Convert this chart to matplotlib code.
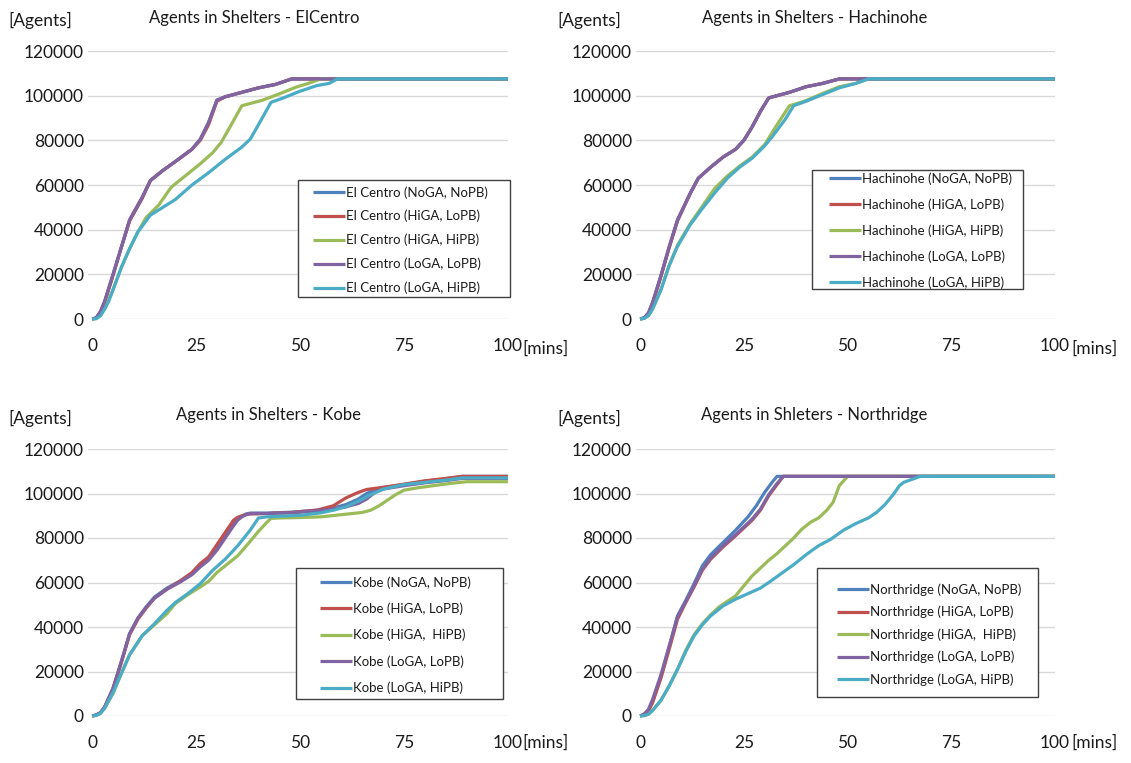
import matplotlib
matplotlib.use("Agg")
import matplotlib.pyplot as plt
from matplotlib.patches import Rectangle

plt.rcParams['font.family'] = ['Lato', 'DejaVu Sans']

W, H = 1131, 763

# colours of the five runs (Office palette)
COLORS = ['#4F81BD', '#C0504D', '#9BBB59', '#8064A2', '#4BACC6']

# ---------------- El Centro ----------------
ec_t_lo = [0, 1, 2, 3, 5, 7, 9, 12, 14, 17, 20, 24, 26, 28, 30, 32, 36, 40, 44, 48, 58, 100]
ec_noga = [0, 500, 3000, 7500, 19500, 32000, 44000, 54000, 62000, 66500, 70500, 76000, 80500, 88000, 98000, 99500, 101500, 103500, 105000, 107500, 107500, 107500]
ec_higa_lo = [0, 500, 3000, 7500, 19500, 32000, 44000, 54000, 62000, 66500, 70500, 76000, 80000, 87000, 97500, 99500, 101500, 103500, 105000, 107500, 107500, 107500]
ec_loga_lo = [0, 600, 3500, 8000, 20000, 32000, 44500, 54500, 62000, 66500, 70500, 76000, 80500, 88000, 98000, 99500, 101500, 103500, 105000, 107500, 107500, 107500]
ec_t_hihi = [0, 1, 2, 3, 5, 7, 9, 11, 13, 16, 19, 23, 26, 29, 31, 33, 36, 38, 41, 45, 49, 52, 55, 100]
ec_higa_hi = [0, 200, 1500, 4500, 13000, 23000, 31500, 39000, 45500, 51000, 59000, 65000, 69500, 74500, 79000, 85500, 95500, 96500, 98000, 100800, 103800, 105500, 107500, 107500]
ec_t_lohi = [0, 1, 2, 3, 4, 5, 7, 9, 11, 14, 17, 20, 24, 28, 32, 36, 38, 40, 43, 46, 50, 54, 57, 59, 100]
ec_loga_hi = [0, 200, 1500, 4500, 8000, 13000, 23000, 31500, 39000, 46500, 50000, 53500, 60000, 65500, 71500, 77000, 80500, 87000, 97000, 99000, 102000, 104500, 105500, 107500, 107500]

# ---------------- Hachinohe ----------------
ha_t_lo = [0, 1, 2, 3, 5, 7, 9, 12, 14, 17, 20, 23, 25, 27, 29, 31, 33, 36, 40, 44, 48, 55, 100]
ha_noga = [0, 500, 2500, 7000, 19000, 32000, 44000, 56000, 63000, 68000, 72500, 76000, 80000, 86000, 93000, 99000, 100000, 101500, 104000, 105500, 107500, 107500, 107500]
ha_higa_lo = ha_noga
ha_loga_lo = [0, 600, 2800, 7500, 19500, 32500, 44500, 56000, 63000, 68000, 72500, 76000, 80000, 86000, 93000, 99000, 100000, 101500, 104000, 105500, 107500, 107500, 107500]
ha_t_hihi = [0, 1, 2, 3, 5, 7, 9, 12, 15, 18, 21, 24, 27, 30, 33, 36, 37, 40, 44, 48, 52, 55, 100]
ha_higa_hi = [0, 300, 1500, 4500, 13000, 24000, 33000, 42500, 50500, 58500, 64000, 68500, 72500, 78000, 87000, 95500, 96000, 97800, 101000, 104000, 105500, 107500, 107500]
ha_t_lohi = [0, 1, 2, 3, 5, 7, 9, 12, 15, 18, 21, 24, 27, 30, 32, 35, 37, 40, 44, 48, 52, 55, 100]
ha_loga_hi = [0, 300, 1500, 4500, 13000, 24000, 32500, 42000, 49500, 56500, 63000, 68000, 72000, 77500, 82000, 89500, 95500, 97500, 100500, 103500, 105500, 107500, 107500]

# ---------------- Kobe ----------------
kb_t = [0, 1, 2, 3, 5, 7, 9, 11, 13, 15, 18, 21, 24, 26, 28, 30, 32, 34, 35, 36, 37, 38, 42, 48, 54, 58, 61, 64, 66, 68, 70, 75, 80, 85, 89, 100]
kb_noga = [0, 500, 1500, 4000, 12000, 24000, 37000, 44000, 49000, 53500, 57500, 60500, 64000, 67500, 70500, 75500, 81000, 86500, 88500, 89800, 90800, 91200, 91200, 91600, 92500, 93500, 95000, 97500, 100000, 101800, 102700, 104000, 105500, 106500, 107700, 107700]
kb_higa_lo = [0, 500, 1500, 4000, 12000, 24000, 36500, 43500, 48500, 53000, 57000, 60500, 64500, 68500, 71500, 77000, 82500, 88000, 89300, 90000, 90500, 90800, 91000, 91500, 92500, 94500, 98000, 100500, 101800, 102300, 102800, 104200, 105700, 106800, 107700, 107700]
kb_loga_lo = [0, 500, 1500, 4000, 12500, 24500, 37000, 44000, 49000, 53000, 57000, 60000, 63500, 67000, 70000, 74500, 80000, 85500, 88000, 89500, 90500, 91000, 91000, 91300, 92200, 93000, 94000, 95500, 97500, 100500, 102000, 103500, 104800, 105800, 106800, 106800]
kb_t_hihi = [0, 1, 2, 3, 5, 7, 9, 12, 15, 18, 20, 23, 26, 28, 30, 32, 35, 38, 40, 42, 43, 45, 50, 55, 60, 65, 67, 69, 71, 73, 75, 78, 82, 86, 90, 100]
kb_higa_hi = [0, 300, 1200, 3500, 10000, 19000, 27500, 36000, 41000, 46000, 50500, 54500, 58000, 60500, 64500, 67500, 72000, 78500, 83000, 87000, 88800, 89000, 89200, 89500, 90500, 91500, 92500, 94500, 97000, 99500, 101500, 102500, 103500, 104500, 105300, 105300]
kb_t_lohi = [0, 1, 2, 3, 5, 7, 9, 12, 15, 18, 20, 23, 26, 29, 32, 35, 38, 40, 42, 45, 50, 55, 58, 61, 64, 67, 70, 75, 80, 85, 89, 100]
kb_loga_hi = [0, 300, 1200, 3500, 10500, 19000, 27500, 36000, 41500, 47500, 51000, 55000, 59500, 65500, 70500, 76500, 83500, 89000, 89500, 89800, 90200, 91300, 92500, 94000, 96500, 99500, 102000, 104000, 105000, 106000, 107000, 107000]

# ---------------- Northridge ----------------
nr_t_no = [0, 1, 2, 3, 5, 7, 9, 11, 13, 15, 17, 20, 23, 25, 26, 28, 30, 32, 33, 100]
nr_noga = [0, 800, 2500, 6500, 17500, 31000, 45000, 52000, 59500, 67500, 72500, 78000, 83500, 87500, 89500, 94500, 100500, 105500, 107700, 107700]
nr_t_lo = [0, 1, 2, 3, 5, 7, 9, 11, 13, 15, 17, 20, 23, 25, 27, 29, 31, 33, 34.5, 100]
nr_higa_lo = [0, 700, 2300, 6000, 17000, 30000, 43500, 51000, 58000, 65500, 70500, 76000, 81000, 84500, 88000, 92500, 99000, 104000, 107700, 107700]
nr_loga_lo = [0, 900, 3000, 7500, 18500, 31500, 44500, 51500, 58500, 66000, 71000, 76500, 81500, 85000, 88500, 93000, 99500, 104500, 107700, 107700]
nr_t_hihi = [0, 1, 2, 3, 5, 7, 9, 11, 13, 15, 17, 19, 21, 23, 25, 27, 29, 31, 33, 35, 37, 39, 41, 43, 45, 46.5, 48, 50, 100]
nr_higa_hi = [0, 200, 800, 2500, 7000, 13500, 21000, 29500, 36500, 41500, 45500, 49000, 51500, 54000, 58500, 63000, 66500, 70000, 73000, 76500, 80000, 84000, 87000, 89000, 92500, 96000, 103500, 107700, 107700]
nr_t_lohi = [0, 1, 2, 3, 5, 7, 9, 11, 13, 15, 17, 20, 23, 26, 29, 31, 34, 37, 40, 43, 46, 49, 52, 55, 57, 59, 61, 62.5, 63.5, 65, 67.5, 100]
nr_loga_hi = [0, 200, 800, 2500, 7000, 13500, 21000, 29000, 36000, 41000, 45000, 49500, 52500, 55000, 57500, 60000, 64000, 68000, 72500, 76500, 79500, 83500, 86500, 89000, 91500, 95000, 99500, 103500, 105000, 106000, 107700, 107700]

x_ticks = [0, 25, 50, 75, 100]
y_ticks = [0, 20000, 40000, 60000, 80000, 100000, 120000]

legend_labels = {
    'El Centro': ['El Centro (NoGA, NoPB)', 'El Centro (HiGA, LoPB)', 'El Centro (HiGA, HiPB)', 'El Centro (LoGA, LoPB)', 'El Centro (LoGA, HiPB)'],
    'Hachinohe': ['Hachinohe (NoGA, NoPB)', 'Hachinohe (HiGA, LoPB)', 'Hachinohe (HiGA, HiPB)', 'Hachinohe (LoGA, LoPB)', 'Hachinohe (LoGA, HiPB)'],
    'Kobe': ['Kobe (NoGA, NoPB)', 'Kobe (HiGA, LoPB)', 'Kobe (HiGA,  HiPB)', 'Kobe (LoGA, LoPB)', 'Kobe (LoGA, HiPB)'],
    'Northridge': ['Northridge (NoGA, NoPB)', 'Northridge (HiGA, LoPB)', 'Northridge (HiGA,  HiPB)', 'Northridge (LoGA, LoPB)', 'Northridge (LoGA, HiPB)'],
}

panels = [
    dict(name='El Centro', title='Agents in Shelters - ElCentro',
         series=[(ec_t_lo, ec_noga), (ec_t_lo, ec_higa_lo), (ec_t_hihi, ec_higa_hi), (ec_t_lo, ec_loga_lo), (ec_t_lohi, ec_loga_hi)],
         ax=(88, 508, 51, 319), title_xy=(254, 18), agents_xy=(8, 20), mins_xy=(522, 349),
         box=(298, 180, 510, 297), leg=(313, 186), ls=0.86),
    dict(name='Hachinohe', title='Agents in Shelters - Hachinohe',
         series=[(ha_t_lo, ha_noga), (ha_t_lo, ha_higa_lo), (ha_t_hihi, ha_higa_hi), (ha_t_lo, ha_loga_lo), (ha_t_lohi, ha_loga_hi)],
         ax=(636, 1055, 51, 319), title_xy=(815, 18), agents_xy=(557, 20), mins_xy=(1071, 349),
         box=(812, 170, 1023, 289), leg=(829, 172), ls=1.02),
    dict(name='Kobe', title='Agents in Shelters - Kobe',
         series=[(kb_t, kb_noga), (kb_t, kb_higa_lo), (kb_t_hihi, kb_higa_hi), (kb_t, kb_loga_lo), (kb_t_lohi, kb_loga_hi)],
         ax=(88, 508, 449, 716), title_xy=(268, 415), agents_xy=(8, 418), mins_xy=(522, 743),
         box=(296, 568, 503, 699), leg=(320, 576), ls=1.05),
    dict(name='Northridge', title='Agents in Shleters - Northridge',
         series=[(nr_t_no, nr_noga), (nr_t_lo, nr_higa_lo), (nr_t_hihi, nr_higa_hi), (nr_t_lo, nr_loga_lo), (nr_t_lohi, nr_loga_hi)],
         ax=(636, 1055, 449, 716), title_xy=(814, 415), agents_xy=(557, 418), mins_xy=(1071, 743),
         box=(817, 568, 1038, 697), leg=(837, 583), ls=0.76),
]


def fx(x):
    return x / W


def fy(y):
    return 1 - y / H


fig = plt.figure(figsize=(W / 100, H / 100), dpi=100)
TXT = '#1a1a1a'
FS = 12.5

for p in panels:
    l, r, t, b = p['ax']
    ax = fig.add_axes([fx(l), fy(b), (r - l) / W, (b - t) / H])
    for (xs, ys), c, lab in zip(p['series'], COLORS, legend_labels[p['name']]):
        ax.plot(xs, ys, color=c, lw=2.3, label=lab, clip_on=False, solid_capstyle='butt')
    ax.set_xlim(-1, 100)
    ax.set_ylim(0, 120000)
    ax.set_xticks(x_ticks)
    ax.set_yticks(y_ticks)
    ax.set_yticklabels([str(v) for v in y_ticks])
    ax.tick_params(length=0, labelsize=FS, colors=TXT)
    ax.tick_params(axis='x', pad=14)
    ax.tick_params(axis='y', pad=3)
    ax.grid(axis='y', color='#d9d9d9', lw=1)
    ax.set_axisbelow(True)
    for s in ax.spines.values():
        s.set_visible(False)

    fig.text(fx(p['title_xy'][0]), fy(p['title_xy'][1]), p['title'], ha='center', va='center', fontsize=12, color=TXT)
    fig.text(fx(p['agents_xy'][0]), fy(p['agents_xy'][1]), '[Agents]', ha='left', va='center', fontsize=FS, color=TXT)
    fig.text(fx(p['mins_xy'][0]), fy(p['mins_xy'][1]), '[mins]', ha='left', va='center', fontsize=FS, color=TXT)

    # legend frame drawn as a plain box, legend entries placed inside it
    bx0, by0, bx1, by1 = p['box']
    ax.add_patch(Rectangle((fx(bx0), fy(by1)), (bx1 - bx0) / W, (by1 - by0) / H,
                           transform=fig.transFigure, facecolor='white',
                           edgecolor='#404040', lw=1.0, zorder=5, clip_on=False))
    leg = ax.legend(loc='upper left', bbox_to_anchor=(fx(p['leg'][0]), fy(p['leg'][1])),
                    bbox_transform=fig.transFigure, frameon=False, fontsize=9.5,
                    handlelength=2.4, handletextpad=0.1, labelspacing=p['ls'], borderpad=0,
                    borderaxespad=0)
    leg.set_zorder(6)
    for txt in leg.get_texts():
        txt.set_color(TXT)

fig.savefig('out.png', dpi=100)
